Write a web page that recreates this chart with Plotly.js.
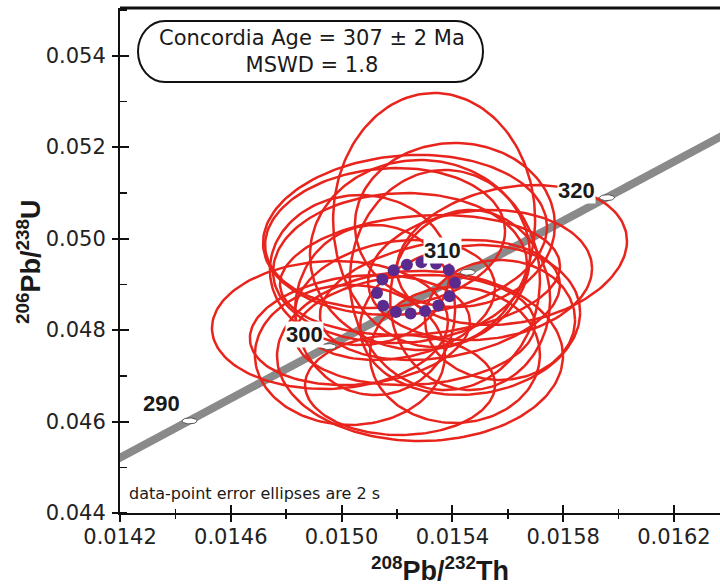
<!DOCTYPE html>
<html>
<head>
<meta charset="utf-8">
<script src="https://cdn.plot.ly/plotly-3.0.1.min.js"></script>
<style>html,body{margin:0;padding:0;background:#fff;}#chart{width:720px;height:588px;}</style>
</head>
<body>
<div id="chart"></div>
<script>
// ---------- data ----------
// Concordia curve points (age in Ma, 208Pb/232Th, 206Pb/238U)
const concAges = [270, 280, 290, 300, 310, 320, 330];
const concX = [0.0134479, 0.0139494, 0.0144512, 0.0149532, 0.0154555, 0.0159580, 0.0164608];
const concY = [0.0427731, 0.0443920, 0.0460133, 0.0476372, 0.0492635, 0.0508925, 0.0525239];
// Labelled age markers on the concordia
const markAges = ["290", "300", "310", "320"];
const markX = [0.0144512, 0.0149532, 0.0154555, 0.0159580];
const markY = [0.0460133, 0.0476372, 0.0492635, 0.0508925];

// Data-point error ellipses (centre, 2-sigma half extents, correlation)
const ellX   = [0.015334, 0.015229, 0.015211, 0.014958, 0.015615, 0.015500, 0.015283, 0.015030, 0.015409, 0.015409,
                0.015283, 0.015193, 0.015355, 0.015121, 0.015464, 0.015265, 0.015066, 0.015572, 0.015211, 0.015373,
                0.015157, 0.015464, 0.015066, 0.015283];
const ellY   = [0.050404, 0.050077, 0.049355, 0.048110, 0.049639, 0.049202, 0.047432, 0.047454, 0.047454, 0.050295,
                0.049639, 0.048656, 0.048656, 0.048437, 0.048656, 0.048000, 0.049311, 0.048219, 0.046798, 0.049093,
                0.050011, 0.048219, 0.048000, 0.049202];
const ellEX  = [0.0003646, 0.0005126, 0.0004585, 0.0004260, 0.0004152, 0.0004043, 0.0005162, 0.0003430, 0.0003069, 0.0003610,
                0.0003971, 0.0003610, 0.0004332, 0.0002888, 0.0002888, 0.0004332, 0.0003249, 0.0002708, 0.0003430, 0.0003430,
                0.0004332, 0.0003971, 0.0003971, 0.0005054];
const ellEY  = [0.002776, 0.001749, 0.001639, 0.001399, 0.001530, 0.001421, 0.001858, 0.001530, 0.001486, 0.001792,
                0.002077, 0.001311, 0.001311, 0.001858, 0.001967, 0.001202, 0.001639, 0.001311, 0.001093, 0.002404,
                0.001530, 0.001639, 0.001202, 0.001311];
const ellRho = [0.0, 0.1, 0.05, 0.05, 0.2, 0.1, 0.0, 0.0, 0.0, 0.0,
                0.0, 0.2, 0.25, 0.0, 0.0, 0.1, 0.0, 0.0, 0.0, 0.0,
                0.1, 0.1, 0.15, 0.15];

// Concordia age ellipse
const ageX = 0.0152686, ageY = 0.048920, ageEX = 0.0001408, ageEY = 0.000560, ageRho = 0.2;

// Axes
const xTicks = [0.0142, 0.0146, 0.0150, 0.0154, 0.0158, 0.0162];
const xTickText = ["0.0142", "0.0146", "0.0150", "0.0154", "0.0158", "0.0162"];
const yTicks = [0.044, 0.046, 0.048, 0.050, 0.052, 0.054];
const yTickText = ["0.044", "0.046", "0.048", "0.050", "0.052", "0.054"];

const boxText = "Concordia Age = 307 ± 2 Ma<br>MSWD = 1.8";
const noteText = "data-point error ellipses are 2 s";
const xTitle = "<b><sup>208</sup>Pb/<sup>232</sup>Th</b>";
const yTitle = "<b><sup>206</sup>Pb/<sup>238</sup>U</b>";

// ---------- drawing ----------
const XR = [0.0142, 0.0163661];
const YR = [0.044, 0.0550383];
const L = 120, T = 8, PW = 600, PH = 505;
const pxX = (XR[1] - XR[0]) / PW;   // data per pixel
const pxY = (YR[1] - YR[0]) / PH;

function ellipse(cx, cy, ex, ey, rho, n) {
  const xs = [], ys = [], s = Math.sqrt(1 - rho * rho);
  for (let i = 0; i <= n; i++) {
    const t = 2 * Math.PI * i / n;
    xs.push(cx + ex * Math.cos(t));
    ys.push(cy + ey * (rho * Math.cos(t) + s * Math.sin(t)));
  }
  return [xs, ys];
}

// points evenly spaced (in screen pixels) along an ellipse
function evenDots(cx, cy, ex, ey, rho, nd) {
  const [xs, ys] = ellipse(cx, cy, ex, ey, rho, 720);
  const cum = [0];
  for (let i = 1; i < xs.length; i++) {
    const dx = (xs[i] - xs[i - 1]) / pxX, dy = (ys[i] - ys[i - 1]) / pxY;
    cum.push(cum[i - 1] + Math.hypot(dx, dy));
  }
  const tot = cum[cum.length - 1], ox = [], oy = [];
  let j = 0;
  for (let k = 0; k < nd; k++) {
    const target = tot * k / nd;
    while (cum[j + 1] < target) j++;
    ox.push(xs[j]); oy.push(ys[j]);
  }
  return [ox, oy];
}

const traces = [];
traces.push({x: concX, y: concY, mode: 'lines', line: {color: '#8a8a8a', width: 8}, hoverinfo: 'skip'});

for (let i = 0; i < ellX.length; i++) {
  const [xs, ys] = ellipse(ellX[i], ellY[i], ellEX[i], ellEY[i], ellRho[i], 160);
  traces.push({x: xs, y: ys, mode: 'lines', line: {color: '#e8241d', width: 2.5}, hoverinfo: 'skip'});
}

for (let i = 0; i < markX.length; i++) {
  const [xs, ys] = ellipse(markX[i], markY[i], 7.5 * pxX, 3 * pxY, 0, 40);
  traces.push({x: xs, y: ys, mode: 'lines', fill: 'toself', fillcolor: '#ffffff',
               line: {color: '#555555', width: 1}, hoverinfo: 'skip'});
}

// dummy trace for overlay axes (inner tick halves)
traces.push({x: [null], y: [null], xaxis: 'x2', yaxis: 'y2', mode: 'markers', hoverinfo: 'skip'});

// rounded box
function P(px, py) { return ((px - L) / PW).toFixed(5) + ',' + ((T + PH - py) / PH).toFixed(5); }
const bx0 = 138, bx1 = 483, by0 = 21, by1 = 82, rx = 27, ry = (by1 - by0) / 2, k = 0.5523;
const bmid = (by0 + by1) / 2;
const boxPath = 'M' + P(bx0 + rx, by0) + ' L' + P(bx1 - rx, by0) +
  ' C' + P(bx1 - rx + k * rx, by0) + ' ' + P(bx1, bmid - k * ry) + ' ' + P(bx1, bmid) +
  ' C' + P(bx1, bmid + k * ry) + ' ' + P(bx1 - rx + k * rx, by1) + ' ' + P(bx1 - rx, by1) +
  ' L' + P(bx0 + rx, by1) +
  ' C' + P(bx0 + rx - k * rx, by1) + ' ' + P(bx0, bmid + k * ry) + ' ' + P(bx0, bmid) +
  ' C' + P(bx0, bmid - k * ry) + ' ' + P(bx0 + rx - k * rx, by0) + ' ' + P(bx0 + rx, by0) + ' Z';

const labShift = [[-28, 17], [-24, 12], [-25, 22], [-30, 7]];
const annotations = markAges.map((a, i) => ({
  x: markX[i], y: markY[i], xref: 'x', yref: 'y', text: '<b>' + a + '</b>', showarrow: false,
  xshift: labShift[i][0], yshift: labShift[i][1], bgcolor: '#ffffff', borderpad: 0,
  font: {family: 'Liberation Sans, Arial, sans-serif', size: 22, color: '#1a1a1a'}
}));
annotations.push({
  xref: 'paper', yref: 'paper', x: (312 - L) / PW, y: (T + PH - 52) / PH, text: boxText,
  showarrow: false, xanchor: 'center', yanchor: 'middle',
  font: {family: 'DejaVu Sans, sans-serif', size: 21, color: '#1a1a1a'}
});
annotations.push({
  xref: 'paper', yref: 'paper', x: (127 - L) / PW, y: (T + PH - 493) / PH, text: noteText,
  showarrow: false, xanchor: 'left', yanchor: 'middle',
  font: {family: 'DejaVu Sans, sans-serif', size: 16, color: '#1a1a1a'}
});
const titleFont = {family: 'Liberation Sans, Arial, sans-serif', size: 27, color: '#1a1a1a'};
annotations.push({
  xref: 'paper', yref: 'paper', x: (440 - L) / PW, y: (T + PH - 569) / PH, text: xTitle,
  showarrow: false, xanchor: 'center', yanchor: 'middle', font: titleFont
});
annotations.push({
  xref: 'paper', yref: 'paper', x: (29 - L) / PW, y: (T + PH - 262) / PH, text: yTitle,
  showarrow: false, xanchor: 'center', yanchor: 'middle', textangle: -90, font: titleFont
});

// purple concordia-age ellipse drawn as dots; added last so it sits above the labels' white boxes
const [dotX, dotY] = evenDots(ageX, ageY, ageEX, ageEY, ageRho, 14);
traces.push({x: dotX, y: dotY, mode: 'markers',
             marker: {color: '#5b2a8e', size: 12, line: {width: 0}}, hoverinfo: 'skip'});

const tickFont = {family: 'DejaVu Sans, sans-serif', size: 21, color: '#222222'};
const layout = {
  width: 720, height: 588,
  margin: {l: L, r: 0, t: T, b: 588 - T - PH},
  paper_bgcolor: '#ffffff', plot_bgcolor: '#ffffff',
  showlegend: false,
  xaxis: {
    range: XR, tickmode: 'array', tickvals: xTicks, ticktext: xTickText,
    ticks: 'outside', ticklen: 7, tickwidth: 2, tickcolor: '#111', ticklabelstandoff: -3,
    minor: {tickmode: 'linear', tick0: 0.0142, dtick: 0.0002, ticks: 'outside', ticklen: 4, tickwidth: 1.5, tickcolor: '#111', showgrid: false},
    showline: true, linewidth: 2, linecolor: '#111', showgrid: false, zeroline: false,
    tickfont: tickFont, automargin: false
  },
  yaxis: {
    range: YR, tickmode: 'array', tickvals: yTicks, ticktext: yTickText,
    ticks: 'outside', ticklen: 6, tickwidth: 2, tickcolor: '#111', ticklabelstandoff: 2,
    minor: {tickmode: 'linear', tick0: 0.044, dtick: 0.001, ticks: 'inside', ticklen: 7, tickwidth: 1.5, tickcolor: '#111', showgrid: false},
    showline: true, linewidth: 2, linecolor: '#111', showgrid: false, zeroline: false,
    tickfont: tickFont, automargin: false
  },
  xaxis2: {
    overlaying: 'x', anchor: 'y', side: 'bottom', range: XR, tickmode: 'array', tickvals: xTicks,
    showticklabels: false, ticks: 'inside', ticklen: 8, tickwidth: 2, tickcolor: '#111',
    minor: {tickmode: 'linear', tick0: 0.0142, dtick: 0.0002, ticks: 'inside', ticklen: 4, tickwidth: 1.5, tickcolor: '#111', showgrid: false},
    showline: false, showgrid: false, zeroline: false
  },
  yaxis2: {
    overlaying: 'y', anchor: 'x', side: 'left', range: YR, tickmode: 'array', tickvals: yTicks,
    showticklabels: false, ticks: 'inside', ticklen: 9, tickwidth: 2, tickcolor: '#111',
    showline: false, showgrid: false, zeroline: false
  },
  shapes: [
    {type: 'line', xref: 'paper', yref: 'paper', x0: 0, x1: 1, y0: 1, y1: 1, line: {color: '#111', width: 3}},
    {type: 'path', xref: 'paper', yref: 'paper', path: boxPath, line: {color: '#111', width: 2}, fillcolor: 'rgba(0,0,0,0)'}
  ],
  annotations: annotations
};

Plotly.newPlot('chart', traces, layout, {staticPlot: true, displayModeBar: false});
</script>
</body>
</html>
